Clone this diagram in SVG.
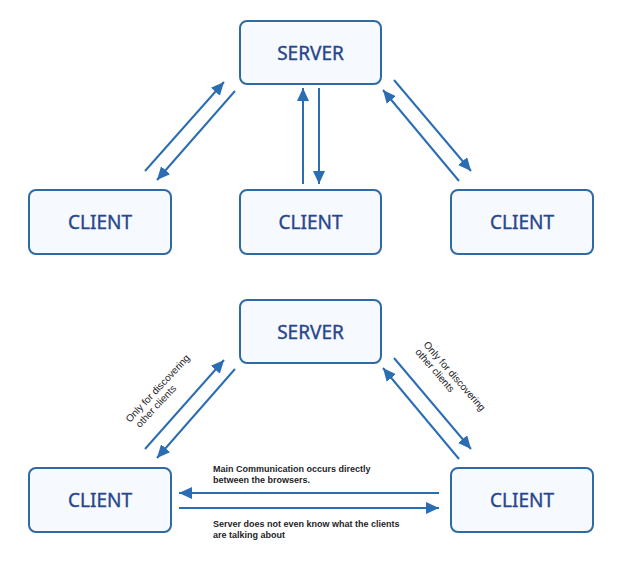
<svg xmlns="http://www.w3.org/2000/svg" width="622" height="561" viewBox="0 0 622 561">
<style>
.box{fill:#f6f9fd;stroke:#2f6aa3;stroke-width:2}
.lbl{font-family:"Noto Sans","Open Sans",sans-serif;font-size:19px;font-weight:normal;fill:#27468c;stroke:#27468c;stroke-width:0.35;text-anchor:middle;dominant-baseline:central}
.ar{stroke:#2b6db2;stroke-width:2;fill:none;marker-end:url(#ah)}
.note{font-family:"Liberation Sans","Noto Sans",sans-serif;font-size:9px;font-weight:bold;fill:#1e1e28}
.rot{font-family:"Liberation Sans","Open Sans",sans-serif;font-size:10px;fill:#1e1e28}
</style>
<defs>
<marker id="ah" markerUnits="userSpaceOnUse" markerWidth="14" markerHeight="12" viewBox="0 0 14 12" refX="13" refY="6" orient="auto">
<path d="M0,0 L13,6 L0,12 z" fill="#2b6db2"/>
</marker>
</defs>
<rect width="622" height="561" fill="#ffffff"/>
<g id="server-top"><rect class="box" x="240" y="21" width="141" height="63" rx="7"/><text class="lbl" x="310.5" y="52.5">SERVER</text></g>
<g id="client-top-left"><rect class="box" x="29" y="190" width="142" height="64" rx="7"/><text class="lbl" x="100" y="222">CLIENT</text></g>
<g id="client-top-mid"><rect class="box" x="240" y="190" width="141" height="64" rx="7"/><text class="lbl" x="310.5" y="222">CLIENT</text></g>
<g id="client-top-right"><rect class="box" x="451" y="190" width="142" height="64" rx="7"/><text class="lbl" x="522" y="222">CLIENT</text></g>
<g id="server-bottom"><rect class="box" x="240" y="300" width="141" height="63" rx="7"/><text class="lbl" x="310.5" y="331.5">SERVER</text></g>
<g id="client-bottom-left"><rect class="box" x="29" y="468" width="142" height="64" rx="7"/><text class="lbl" x="100" y="500">CLIENT</text></g>
<g id="client-bottom-right"><rect class="box" x="451" y="468" width="142" height="64" rx="7"/><text class="lbl" x="522" y="500">CLIENT</text></g>
<g id="connectors">
<line class="ar" x1="145" y1="171" x2="224" y2="82"/>
<line class="ar" x1="235" y1="91" x2="157" y2="180"/>
<line class="ar" x1="303" y1="184" x2="303" y2="88"/>
<line class="ar" x1="319" y1="88" x2="319" y2="184"/>
<line class="ar" x1="394" y1="80" x2="471" y2="171"/>
<line class="ar" x1="459" y1="181" x2="383" y2="90"/>
<line class="ar" x1="145" y1="449" x2="224" y2="360"/>
<line class="ar" x1="235" y1="369" x2="157" y2="458"/>
<line class="ar" x1="394" y1="358" x2="471" y2="449"/>
<line class="ar" x1="459" y1="459" x2="383" y2="368"/>
<line class="ar" x1="439" y1="493" x2="179" y2="493"/>
<line class="ar" x1="179" y1="508" x2="439" y2="508"/>
</g>
<g id="labels">
<text class="rot" transform="translate(130,423) rotate(-47)"><tspan x="0" y="0">Only for discovering</tspan><tspan x="3" y="11">other clients</tspan></text>
<text class="rot" transform="translate(423,345) rotate(49)"><tspan x="0" y="0">Only for discovering</tspan><tspan x="0" y="11">other clients</tspan></text>
<text class="note"><tspan x="213" y="472">Main Communication occurs directly</tspan><tspan x="213" y="483">between the browsers.</tspan></text>
<text class="note"><tspan x="213" y="527">Server does not even know what the clients</tspan><tspan x="213" y="538">are talking about</tspan></text>
</g>
</svg>
